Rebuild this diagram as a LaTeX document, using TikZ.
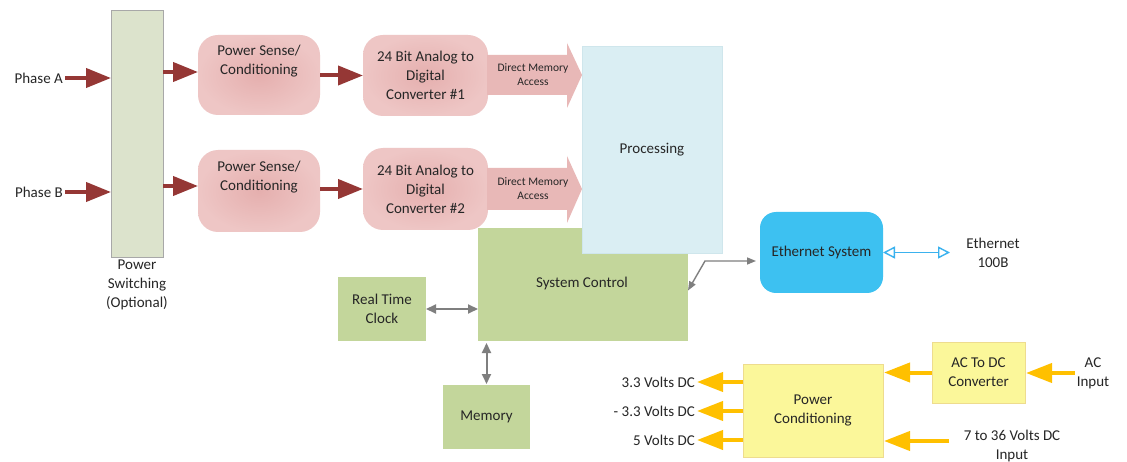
\documentclass[tikz,border=0pt]{standalone}
\usepackage{fontspec}
\setmainfont{Carlito}
\usetikzlibrary{arrows.meta}
\definecolor{txt}{HTML}{262626}
\definecolor{swfill}{HTML}{DCE3CC}
\definecolor{swdraw}{HTML}{A8A8A8}
\definecolor{pinkin}{HTML}{E5AFAE}
\definecolor{pinkout}{HTML}{EEC6C5}
\definecolor{pinkA}{HTML}{E8B8B7}
\definecolor{darkred}{HTML}{953735}
\definecolor{procfill}{HTML}{DAEEF3}
\definecolor{procdraw}{HTML}{CFE6EC}
\definecolor{greenbox}{HTML}{C3D69B}
\definecolor{grayline}{HTML}{7F7F7F}
\definecolor{ethfill}{HTML}{3DC1F1}
\definecolor{ethline}{HTML}{3BB2EE}
\definecolor{yfill}{HTML}{FBF79A}
\definecolor{ydraw}{HTML}{EEDC8E}
\definecolor{yarr}{HTML}{FFC000}
\begin{document}
\begin{tikzpicture}[x=1pt,y=-1pt,
  font=\fontsize{15}{19}\selectfont, text=txt,
  box/.style={rectangle, inner sep=0pt, outer sep=0pt},
  lbl/.style={inner sep=2pt, align=center},
  pinkbox/.style={box, rounded corners=20pt, shading=radial, inner color=pinkin, outer color=pinkout, minimum width=122pt},
  adcbox/.style={box, rounded corners=20pt, shading=radial, inner color=pinkin, outer color=pinkout, minimum width=125pt, align=center},
  greenblk/.style={box, fill=greenbox, align=center},
  ybox/.style={box, fill=yfill, draw=ydraw, line width=0.8pt, align=center},
  redarrow/.style={draw=darkred, line width=4pt, -{Triangle[width=19pt,length=25pt]}},
  grayarrow/.style={draw=grayline, line width=2pt, {Triangle[width=9pt,length=10pt]}-{Triangle[width=9pt,length=10pt]}},
  grayconn/.style={draw=grayline, line width=1.4pt, {Triangle[width=7pt,length=9pt]}-{Triangle[width=7pt,length=9pt]}},
  bluearrow/.style={draw=ethline, line width=1.4pt, {Triangle[open,width=12pt,length=12pt]}-{Triangle[open,width=12pt,length=12pt]}},
  yarrow/.style={draw=yarr, line width=4pt, -{Triangle[width=19pt,length=26pt]}},
  dma/.style={fill=pinkA},
  small/.style={font=\fontsize{11.5}{14}\selectfont, align=center, inner sep=0pt}
]
\useasboundingbox (0,0) rectangle (1127,462);
\fill[white] (0,0) rectangle (1127,462);

% power switching bar
\node[box, fill=swfill, draw=swdraw, line width=0.8pt, minimum width=52pt, minimum height=247pt] (sw) at (137,133.5) {};
\node[lbl] (swl) at (137,285) {Power\\Switching\\(Optional)};

% phase inputs
\node[lbl, anchor=east] (pa) at (65,78) {Phase A};
\node[lbl, anchor=east] (pb) at (65,192) {Phase B};
\draw[redarrow] (pa.east) -- (sw.west |- pa.east);
\draw[redarrow] (pb.east) -- (sw.west |- pb.east);

% power sense boxes
\node[pinkbox, minimum height=80pt] (ps1) at (259,75) {};
\node[lbl] (ps1t) at (259,61) {Power Sense/\\Conditioning};
\node[pinkbox, minimum height=82pt] (ps2) at (259,191) {};
\node[lbl] (ps2t) at (259,177.5) {Power Sense/\\Conditioning};
\coordinate (a1) at ([yshift=3pt]ps1.west);
\coordinate (a2) at ([yshift=5pt]ps2.west);
\draw[redarrow] (sw.east |- a1) -- (a1);
\draw[redarrow] (sw.east |- a2) -- (a2);

% ADC boxes
\node[adcbox, minimum height=81pt] (adc1) at (425.5,75.5) {24 Bit Analog to\\Digital\\Converter \#1};
\node[adcbox, minimum height=82pt] (adc2) at (425.5,189) {24 Bit Analog to\\Digital\\Converter \#2};
\draw[redarrow] (ps1.east |- adc1.west) -- (adc1.west);
\draw[redarrow] (ps2.east |- adc2.west) -- (adc2.west);

% system control (behind processing)
\node[greenblk, minimum width=210pt, minimum height=113pt] (sc) at (583,284.5) {};
\node[lbl] (sct) at (582,284) {System Control};

% DMA block arrows
\fill[dma] (487,55) -- (567,55) -- (567,43) -- (582,75) -- (567,108) -- (567,95) -- (487,95) -- cycle;
\fill[dma] (487,168) -- (567,168) -- (567,156) -- (582,189) -- (567,223) -- (567,210) -- (487,210) -- cycle;
\node[small] (dma1) at (533,75) {Direct Memory\\Access};
\node[small] (dma2) at (533,189) {Direct Memory\\Access};

% processing
\node[box, fill=procfill, draw=procdraw, line width=0.8pt, minimum width=140pt, minimum height=207pt] (proc) at (652,149.5) {Processing};

% RTC and memory
\node[greenblk, minimum width=88pt, minimum height=64pt] (rtc) at (382,309) {Real Time\\Clock};
\node[greenblk, minimum width=87pt, minimum height=64pt] (mem) at (486.5,417) {Memory};
\draw[grayarrow] (rtc.east) -- (sc.west |- rtc.east);
\draw[grayarrow, shorten <=1pt, shorten >=2pt] (mem.north) -- (mem.north |- sc.south);

% Ethernet
\node[box, fill=ethfill, rounded corners=16pt, minimum width=123pt, minimum height=81pt] (eth) at (821.5,252.5) {Ethernet System};
\coordinate (bend) at (705,261);
\draw[grayconn, shorten >=4pt] ([yshift=-6pt]sc.east) -- (bend) -- (eth.west |- bend);
\node[lbl] (elbl) at (993,252.5) {Ethernet\\100B};
\coordinate (ethout) at (950,252.5);
\draw[bluearrow] (eth.east) -- (ethout);

% power section
\node[ybox, minimum width=140pt, minimum height=93pt] (pc) at (813,410.5) {Power\\Conditioning};
\node[ybox, minimum width=93pt, minimum height=61pt] (acc) at (978.5,372.5) {AC To DC\\Converter};
\node[lbl] (acin) at (1093,373) {AC\\Input};
\node[lbl] (dcin) at (1012,446) {7 to 36 Volts DC\\Input};
\coordinate (dcs) at (949,441);
\draw[yarrow] (acin.west) -- ([xshift=1pt]acc.east |- acin.west);
\draw[yarrow] (acc.west) -- ([xshift=1pt]pc.east |- acc.west);
\draw[yarrow] (dcs) -- ([xshift=1pt]pc.east |- dcs);

\node[lbl, anchor=east] (o1) at (697,382) {3.3 Volts DC};
\node[lbl, anchor=east] (o2) at (697,411) {- 3.3 Volts DC};
\node[lbl, anchor=east] (o3) at (697,440) {5 Volts DC};
\draw[yarrow] (pc.west |- o1.east) -- (o1.east);
\draw[yarrow] (pc.west |- o2.east) -- (o2.east);
\draw[yarrow] (pc.west |- o3.east) -- (o3.east);
\end{tikzpicture}
\end{document}
